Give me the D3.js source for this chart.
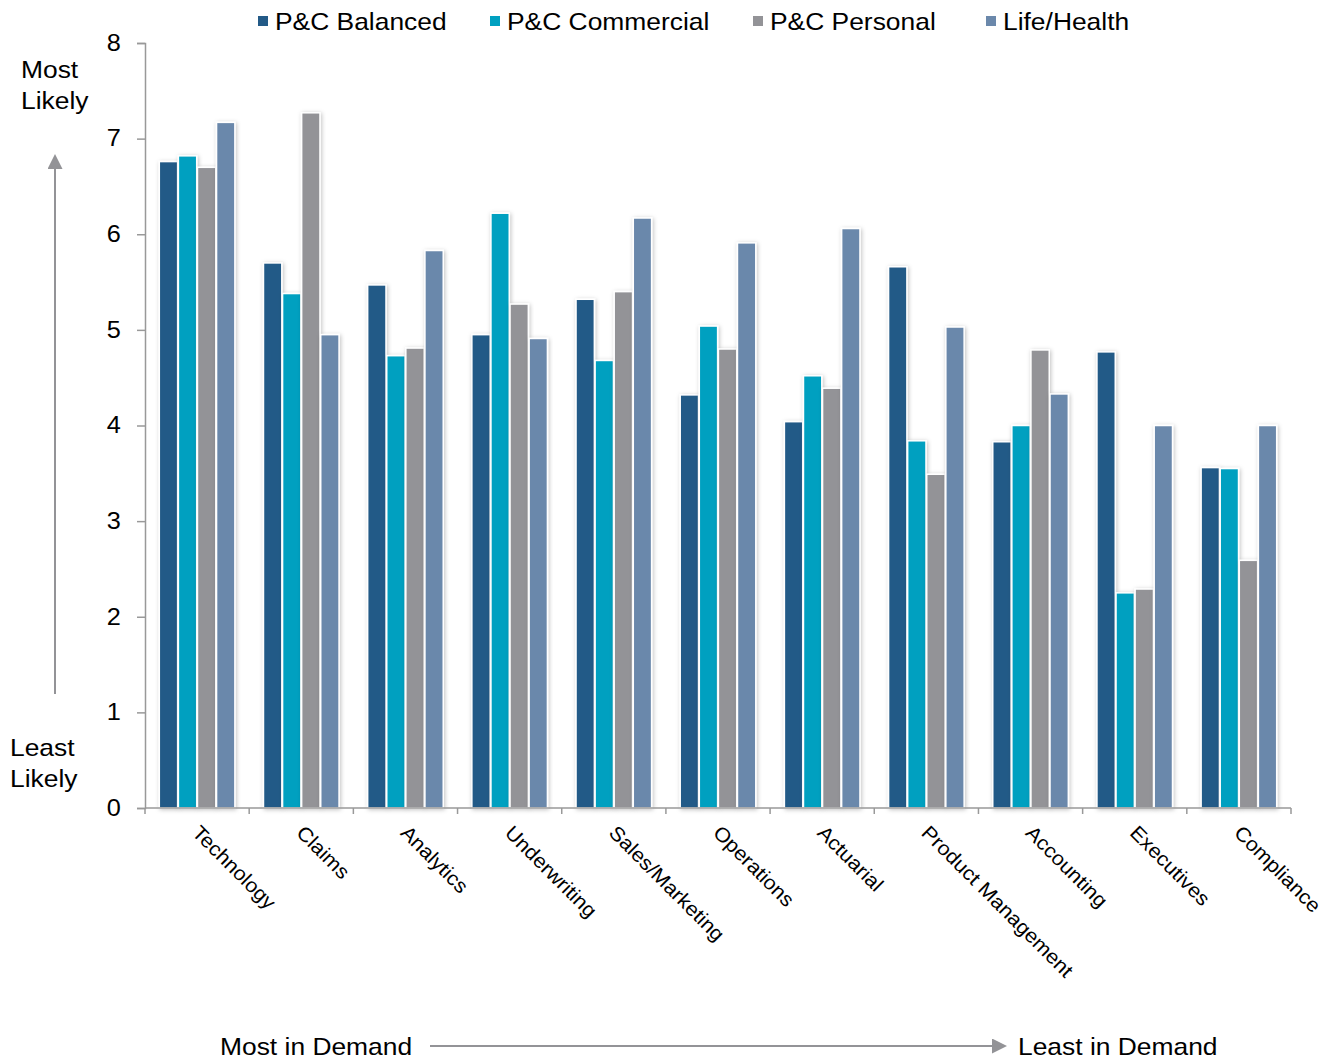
<!DOCTYPE html>
<html>
<head>
<meta charset="utf-8">
<script src="https://cdn.jsdelivr.net/npm/d3@7"></script>
<style>
  body { margin: 0; background: #fff; }
  text { font-family: "Liberation Sans", Arial, sans-serif; fill: #000; }
</style>
</head>
<body>
<div id="graph"></div>
<script>
// chart data
const categories = ["Technology", "Claims", "Analytics", "Underwriting", "Sales/Marketing",
  "Operations", "Actuarial", "Product Management", "Accounting", "Executives", "Compliance"];
const seriesNames = ["P&C Balanced", "P&C Commercial", "P&C Personal", "Life/Health"];
const pcBalanced   = [6.76, 5.70, 5.47, 4.95, 5.32, 4.32, 4.04, 5.66, 3.83, 4.77, 3.56];
const pcCommercial = [6.82, 5.38, 4.73, 6.22, 4.68, 5.04, 4.52, 3.84, 4.00, 2.25, 3.55];
const pcPersonal   = [6.70, 7.27, 4.81, 5.27, 5.40, 4.80, 4.39, 3.49, 4.79, 2.29, 2.59];
const lifeHealth   = [7.17, 4.95, 5.83, 4.91, 6.17, 5.91, 6.06, 5.03, 4.33, 4.00, 4.00];
const yTicks = [0, 1, 2, 3, 4, 5, 6, 7, 8];
const colors = ["#235a87", "#00a0c0", "#939397", "#6b88ab"];

const allSeries = [pcBalanced, pcCommercial, pcPersonal, lifeHealth];
const data = categories.map((c, i) => ({
  name: c,
  values: allSeries.map((s, j) => ({key: seriesNames[j], value: s[i], idx: j}))
}));

const W = 1335, H = 1061;
const margin = {top: 43, right: 44, bottom: 253, left: 145},
    width = W - margin.left - margin.right,
    height = H - margin.top - margin.bottom;

const root = d3.select("#graph").append("svg")
    .attr("width", W)
    .attr("height", H);

const defs = root.append("defs");
const f = defs.append("filter").attr("id", "shadow")
    .attr("x", "-30%").attr("y", "-5%").attr("width", "160%").attr("height", "110%");
f.append("feDropShadow").attr("dx", 1).attr("dy", 1).attr("stdDeviation", 2)
    .attr("flood-color", "#000").attr("flood-opacity", 0.25);

defs.append("marker").attr("id", "arrow")
    .attr("viewBox", "0 0 10 10").attr("refX", 2).attr("refY", 5)
    .attr("markerUnits", "userSpaceOnUse")
    .attr("markerWidth", 15).attr("markerHeight", 15).attr("orient", "auto")
  .append("path").attr("d", "M0,0 L10,5 L0,10 Z").attr("fill", "#939397");

// horizontally widened text, like the original
function label(g, x0, y0, txt, size) {
  return g.append("text")
      .attr("transform", `translate(${x0},${y0}) scale(1.1,1)`)
      .attr("font-size", size).text(txt);
}

const svg = root.append("g")
    .attr("transform", `translate(${margin.left},${margin.top})`);

const x = d3.scaleBand().domain(categories).range([0, width]).paddingInner(0.26).paddingOuter(0.13);
const x1 = d3.scaleBand().domain(seriesNames).range([0, x.bandwidth()]).padding(0.04);
const y = d3.scaleLinear().domain([0, 8]).range([height, 0]);

// y axis
const yAxis = svg.append("g")
    .call(d3.axisLeft(y).tickValues(yTicks).tickSize(8).tickPadding(14));
yAxis.select(".domain").attr("stroke", "#999").attr("stroke-width", 1.5);
yAxis.selectAll(".tick line").attr("stroke", "#999").attr("stroke-width", 1.5);
yAxis.selectAll(".tick text").attr("font-size", 23).attr("font-family", "Liberation Sans, Arial")
    .attr("transform", "translate(-22,0) scale(1.1,1) translate(20,0)");

// bars
const groups = svg.selectAll(".cat").data(data).join("g")
    .attr("class", "cat")
    .attr("transform", d => `translate(${x(d.name)},0)`);
groups.selectAll("rect").data(d => d.values).join("rect")
    .attr("x", d => x1(d.key))
    .attr("y", d => y(d.value))
    .attr("width", x1.bandwidth())
    .attr("height", d => height - y(d.value))
    .attr("fill", d => colors[d.idx])
    .attr("stroke", "#fff")
    .attr("stroke-width", 1.5)
    .attr("filter", "url(#shadow)");

// x axis
const step = width / categories.length;
const xAxis = svg.append("g").attr("transform", `translate(0,${height})`);
xAxis.append("line").attr("x1", 0).attr("x2", width).attr("stroke", "#999").attr("stroke-width", 1.5);
xAxis.selectAll(".tk").data(d3.range(categories.length + 1)).join("line")
    .attr("x1", i => i * step).attr("x2", i => i * step)
    .attr("y1", 0).attr("y2", 6)
    .attr("stroke", "#999").attr("stroke-width", 1.5);
xAxis.selectAll(".lbl").data(categories).join("text")
    .attr("transform", d => `translate(${x(d) + x.bandwidth() / 2 - 6},${26}) rotate(45) scale(1.07,1)`)
    .attr("font-size", 20)
    .attr("text-anchor", "start")
    .text(d => d);

// legend
const legendX = [258, 490, 753, 986];
const legend = root.append("g");
seriesNames.forEach((s, i) => {
  legend.append("rect").attr("x", legendX[i]).attr("y", 16).attr("width", 10).attr("height", 10)
      .attr("fill", colors[i]);
  label(legend, legendX[i] + 17, 29.5, s, 24);
});

// side annotations
const ann = root.append("g");
label(ann, 21, 78, "Most", 24);
label(ann, 21, 109, "Likely", 24);
label(ann, 10, 756, "Least", 24);
label(ann, 10, 787, "Likely", 24);
ann.append("line").attr("x1", 55).attr("y1", 694).attr("x2", 55).attr("y2", 166)
    .attr("stroke", "#939397").attr("stroke-width", 2).attr("marker-end", "url(#arrow)");

label(ann, 220, 1055, "Most in Demand", 24);
label(ann, 1018, 1055, "Least in Demand", 24);
ann.append("line").attr("x1", 430).attr("y1", 1046).attr("x2", 995).attr("y2", 1046)
    .attr("stroke", "#939397").attr("stroke-width", 2).attr("marker-end", "url(#arrow)");
</script>
</body>
</html>
